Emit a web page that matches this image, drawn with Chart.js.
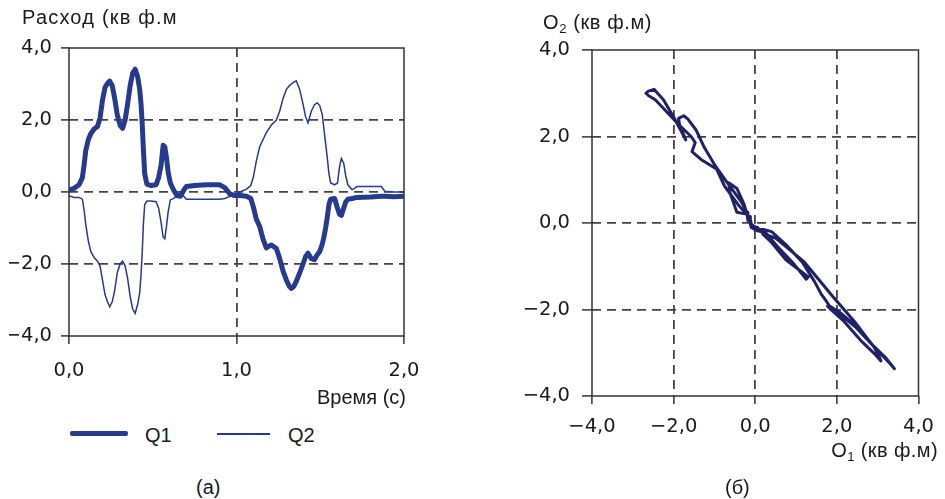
<!DOCTYPE html>
<html>
<head>
<meta charset="utf-8">
<script src="https://cdn.jsdelivr.net/npm/chart.js@4.4.1/dist/chart.umd.min.js"></script>
<style>
  html, body { margin: 0; padding: 0; background: #fff; }
  body { width: 945px; height: 499px; position: relative; overflow: hidden; font-family: "Liberation Sans", Arial, sans-serif; color: #1a1a1a; }
  .box { position: absolute; }
  .txt { position: absolute; font-size: 20px; white-space: nowrap; line-height: 1; }
  .sub { font-size: 13px; position: relative; top: 4px; }
</style>
</head>
<body>
<div class="box" id="boxA" style="left:0;top:0;width:470px;height:400px;"><canvas id="chartA"></canvas></div>
<div class="box" id="boxB" style="left:480px;top:0;width:465px;height:470px;"><canvas id="chartB"></canvas></div>

<div class="txt" id="yTitleA" style="left:22px;top:7px;letter-spacing:1.2px;">Расход (кв ф.м</div>
<div class="txt" id="xTitleA" style="right:539px;top:387px;">Время (с)</div>
<div class="box" style="left:70px;top:431px;width:58px;height:5px;background:#263a8e;border-radius:2px;"></div>
<div class="txt" style="left:145px;top:425px;">Q1</div>
<div class="box" style="left:217px;top:433px;width:53px;height:1.5px;background:#263a8e;"></div>
<div class="txt" style="left:288px;top:425px;">Q2</div>
<div class="txt" style="left:196px;top:477px;">(а)</div>

<div class="txt" id="yTitleB" style="left:543px;top:12px;letter-spacing:0.6px;">O<span class="sub">2</span>&nbsp;(кв ф.м)</div>
<div class="txt" id="xTitleB" style="right:7px;top:440px;letter-spacing:0.4px;">O<span class="sub">1</span>&nbsp;(кв ф.м)</div>
<div class="txt" style="left:725px;top:477px;">(б)</div>

<script>
// ---- Data ----
const time = [0.00,0.03,0.06,0.08,0.09,0.10,0.115,0.13,0.15,0.17,0.185,0.20,0.215,0.23,0.243,0.258,0.272,0.288,0.305,0.32,0.335,0.35,0.365,0.38,0.395,0.41,0.422,0.43,0.437,0.444,0.452,0.465,0.49,0.52,0.535,0.55,0.562,0.572,0.582,0.592,0.605,0.625,0.645,0.665,0.685,0.70,0.75,0.82,0.90,0.93,0.96,0.99,1.02,1.06,1.085,1.10,1.118,1.138,1.158,1.178,1.208,1.238,1.258,1.278,1.298,1.315,1.328,1.342,1.357,1.377,1.397,1.412,1.427,1.447,1.465,1.481,1.497,1.512,1.522,1.532,1.542,1.552,1.562,1.586,1.603,1.615,1.626,1.64,1.652,1.665,1.69,1.72,1.80,1.865,1.885,1.94,2.00];
const q1 = [0.05,0.10,0.20,0.40,0.75,1.15,1.45,1.62,1.75,1.82,2.05,2.55,2.90,3.02,3.08,2.95,2.62,2.15,1.85,1.77,2.00,2.45,2.95,3.30,3.41,3.20,2.85,2.45,1.90,1.20,0.50,0.22,0.18,0.20,0.40,0.75,1.30,1.25,0.95,0.55,0.25,0.05,-0.10,-0.12,0.05,0.15,0.18,0.20,0.20,0.12,-0.05,-0.10,-0.10,-0.12,-0.18,-0.40,-0.75,-0.95,-1.30,-1.55,-1.47,-1.57,-1.85,-2.20,-2.45,-2.62,-2.68,-2.62,-2.48,-2.25,-2.00,-1.80,-1.70,-1.85,-1.88,-1.75,-1.65,-1.45,-1.25,-1.00,-0.70,-0.35,-0.20,-0.18,-0.45,-0.62,-0.65,-0.45,-0.28,-0.20,-0.18,-0.15,-0.14,-0.12,-0.12,-0.13,-0.12];
const q2 = [-0.10,-0.15,-0.15,-0.20,-0.50,-0.90,-1.35,-1.65,-1.82,-1.92,-2.05,-2.45,-2.85,-3.05,-3.19,-3.05,-2.75,-2.25,-2.00,-1.92,-2.05,-2.40,-2.90,-3.25,-3.37,-3.12,-2.80,-2.30,-1.70,-0.90,-0.35,-0.25,-0.25,-0.27,-0.45,-0.85,-1.25,-1.30,-0.95,-0.55,-0.22,-0.18,-0.10,-0.02,-0.12,-0.20,-0.20,-0.20,-0.20,-0.18,-0.12,-0.05,0.00,0.08,0.18,0.40,0.85,1.25,1.45,1.65,1.86,2.00,2.25,2.60,2.85,2.95,3.00,3.05,3.09,2.85,2.45,2.10,1.92,2.25,2.42,2.48,2.40,2.15,1.75,1.35,0.95,0.50,0.25,0.20,0.25,0.70,0.93,0.80,0.45,0.20,0.06,0.15,0.15,0.15,0.02,0.00,0.00];

const seriesNames = ['Q1', 'Q2'];
const timeTickLabels = ['0,0', '1,0', '2,0'];
const valueTickLabels = ['\u22124,0', '\u22122,0', '0,0', '2,0', '4,0'];
const oTickLabels = ['\u22124,0', '\u22122,0', '0,0', '2,0', '4,0'];

// ---- Styling ----
const FONT = { family: '"DejaVu Sans", "Liberation Sans", sans-serif', size: 19.5 };
const TXT = '#1a1a1a';
const LINE_COL = '#263a8e';
const SCAT_COL = '#1f2266';
const GRID_COL = '#444';
const FRAME_COL = '#333';

const framePlugin = {
  id: 'frame',
  afterDraw(chart) {
    const a = chart.chartArea, c = chart.ctx;
    c.save();
    c.strokeStyle = FRAME_COL; c.lineWidth = 1.5;
    c.strokeRect(a.left, a.top, a.right - a.left, a.bottom - a.top);
    c.restore();
  }
};

function gridOpts(minV, maxV, tl) {
  return {
    color: (ctx) => (ctx.tick && (ctx.tick.value === minV || ctx.tick.value === maxV)) ? 'rgba(0,0,0,0)' : GRID_COL,
    lineWidth: 1.8,
    tickColor: FRAME_COL,
    tickWidth: 1.5,
    tickLength: tl,
    drawTicks: true
  };
}

// ---- Chart (a): time series ----
new Chart(document.getElementById('chartA'), {
  type: 'line',
  data: {
    datasets: [
      { label: seriesNames[0], data: time.map((t, i) => ({ x: t, y: q1[i] })), borderColor: LINE_COL, borderWidth: 5, pointRadius: 0, tension: 0, borderJoinStyle: 'round', borderCapStyle: 'round' },
      { label: seriesNames[1], data: time.map((t, i) => ({ x: t, y: q2[i] })), borderColor: LINE_COL, borderWidth: 1.5, pointRadius: 0, tension: 0 }
    ]
  },
  options: {
    responsive: true, maintainAspectRatio: false, animation: false,
    layout: { padding: { left: 9, right: 66, top: 48, bottom: 16 } },
    plugins: { legend: { display: false }, tooltip: { enabled: false } },
    scales: {
      x: {
        type: 'linear', min: 0, max: 2,
        afterFit: (s) => { s.height = 48; },
        ticks: { stepSize: 1, padding: 15, color: TXT, font: FONT, maxRotation: 0,
                 callback: (v, i) => timeTickLabels[i] },
        grid: gridOpts(0, 2, 8),
        border: { display: false, dash: [9, 6] }
      },
      y: {
        type: 'linear', min: -4, max: 4,
        afterFit: (s) => { s.width = 60; },
        ticks: { stepSize: 2, padding: 9, color: TXT, font: FONT,
                 callback: (v, i) => valueTickLabels[i] },
        grid: gridOpts(-4, 4, 8),
        border: { display: false, dash: [9, 6] }
      }
    }
  },
  plugins: [framePlugin]
});

// ---- Chart (б): Q2 versus Q1 ----
new Chart(document.getElementById('chartB'), {
  type: 'scatter',
  data: {
    datasets: [
      { label: 'O2/O1', data: q1.map((v, i) => ({ x: v, y: q2[i] })), showLine: true, borderColor: SCAT_COL, backgroundColor: SCAT_COL, borderWidth: 3, pointRadius: 0, tension: 0, borderJoinStyle: 'round', borderCapStyle: 'round' }
    ]
  },
  options: {
    responsive: true, maintainAspectRatio: false, animation: false,
    layout: { padding: { left: 0, right: 21, top: 50, bottom: 29 } },
    plugins: { legend: { display: false }, tooltip: { enabled: false } },
    scales: {
      x: {
        type: 'linear', min: -4, max: 4,
        afterFit: (s) => { s.height = 45; },
        ticks: { stepSize: 2, padding: 11, color: TXT, font: FONT, maxRotation: 0,
                 callback: (v, i) => oTickLabels[i] },
        grid: gridOpts(-4, 4, 8),
        border: { display: false, dash: [9, 6] }
      },
      y: {
        type: 'linear', min: -4, max: 4,
        afterFit: (s) => { s.width = 112; },
        ticks: { stepSize: 2, padding: 12, color: TXT, font: FONT,
                 callback: (v, i) => oTickLabels[i] },
        grid: gridOpts(-4, 4, 10),
        border: { display: false, dash: [9, 6] }
      }
    }
  },
  plugins: [framePlugin]
});
</script>
</body>
</html>
